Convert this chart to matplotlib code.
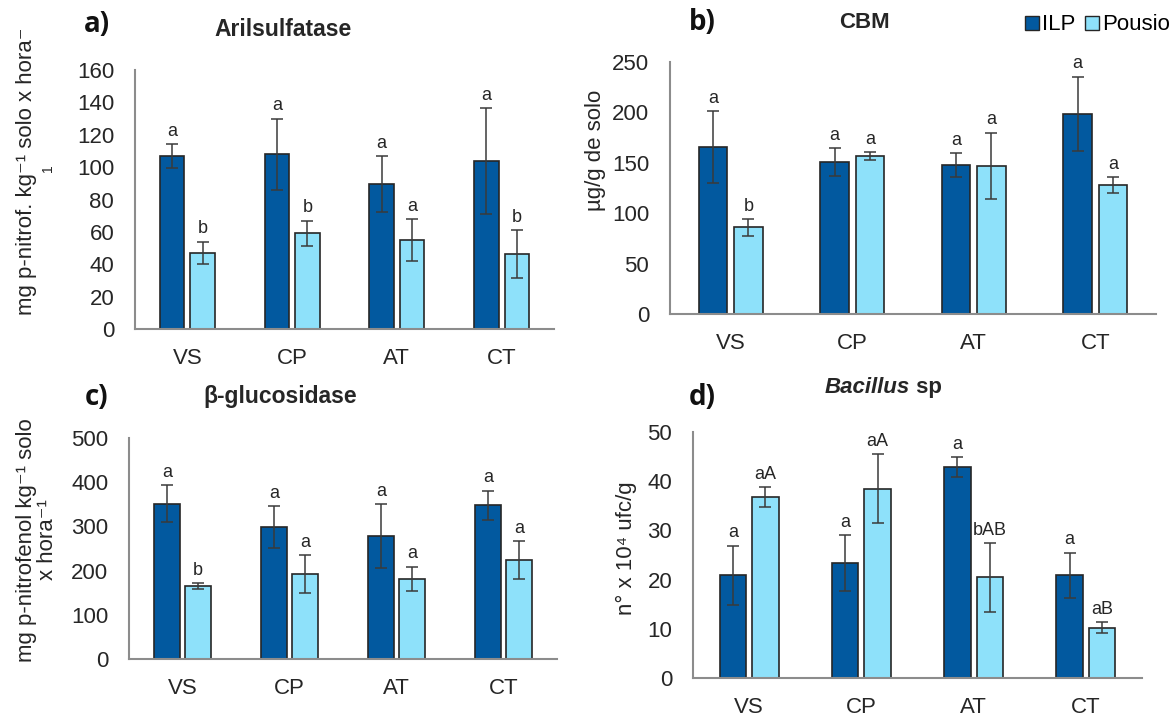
import numpy as np
import matplotlib.pyplot as plt
from matplotlib.patches import Patch

plt.rcParams['font.family'] = ['Liberation Sans', 'DejaVu Sans']

W, H = 1176, 718

sites = ["VS", "CP", "AT", "CT"]

# a) Arilsulfatase
aril_ilp = [106.8, 108.0, 89.5, 103.7]
aril_ilp_err = [7.5, 22.0, 17.5, 32.7]
aril_pou = [47.0, 59.0, 55.0, 46.3]
aril_pou_err = [7.0, 8.0, 12.7, 15.0]
aril_let_ilp = ["a", "a", "a", "a"]
aril_let_pou = ["b", "b", "a", "b"]

# b) CBM
cbm_ilp = [165.5, 150.5, 148.0, 198.5]
cbm_ilp_err = [36.0, 14.0, 12.0, 37.0]
cbm_pou = [86.0, 157.0, 147.0, 128.0]
cbm_pou_err = [8.5, 4.0, 33.0, 7.5]
cbm_let_ilp = ["a", "a", "a", "a"]
cbm_let_pou = ["b", "a", "a", "a"]

# c) beta-glucosidase
gluc_ilp = [351, 299, 278, 348]
gluc_ilp_err = [42, 47, 72, 33]
gluc_pou = [165, 192, 181, 224]
gluc_pou_err = [6, 43, 28, 42]
gluc_let_ilp = ["a", "a", "a", "a"]
gluc_let_pou = ["b", "a", "a", "a"]

# d) Bacillus sp
bac_ilp = [20.9, 23.3, 42.9, 20.9]
bac_ilp_err = [6.0, 5.7, 2.0, 4.6]
bac_pou = [36.8, 38.5, 20.5, 10.2]
bac_pou_err = [2.0, 7.0, 7.0, 1.1]
bac_let_ilp = ["a", "a", "a", "a"]
bac_let_pou = ["aA", "aA", "bAB", "aB"]

C_ILP = "#02599f"
C_POU = "#8ee1fa"
EDGE = "#262626"
AXC = "#8c8c8c"
TXT = "#262626"


def px_axes(fig, l, t, r, b):
    return fig.add_axes([l / W, 1 - b / H, (r - l) / W, (b - t) / H])


def panel(ax, ilp, ilp_err, pou, pou_err, let_ilp, let_pou, ymax, step):
    x = np.arange(len(sites))
    w = 0.235
    off = 0.145
    ax.bar(x - off, ilp, w, color=C_ILP, edgecolor=EDGE, linewidth=1.2, zorder=2)
    ax.bar(x + off, pou, w, color=C_POU, edgecolor=EDGE, linewidth=1.2, zorder=2)
    ax.errorbar(x - off, ilp, yerr=ilp_err, fmt="none", ecolor="#3a3a3a",
                elinewidth=1.1, capsize=4, capthick=1.1, zorder=3)
    ax.errorbar(x + off, pou, yerr=pou_err, fmt="none", ecolor="#3a3a3a",
                elinewidth=1.1, capsize=4, capthick=1.1, zorder=3)
    for i in range(len(sites)):
        ax.annotate(let_ilp[i], (x[i] - off, ilp[i] + ilp_err[i]), xytext=(0, 3),
                    textcoords="offset points", ha="center", va="bottom", fontsize=13,
                    color=TXT)
        ax.annotate(let_pou[i], (x[i] + off, pou[i] + pou_err[i]), xytext=(0, 3),
                    textcoords="offset points", ha="center", va="bottom", fontsize=13,
                    color=TXT)
    ax.set_xlim(-0.5, len(sites) - 0.5)
    ax.set_ylim(0, ymax)
    ax.set_yticks(np.arange(0, ymax + 1, step))
    ax.set_xticks(x)
    ax.set_xticklabels(sites)
    for s in ["top", "right"]:
        ax.spines[s].set_visible(False)
    for s in ["left", "bottom"]:
        ax.spines[s].set_color(AXC)
        ax.spines[s].set_linewidth(1.5)
    ax.tick_params(axis="both", length=0, labelsize=16, colors=TXT)
    ax.tick_params(axis="y", pad=15)
    ax.tick_params(axis="x", pad=14)


fig = plt.figure(figsize=(W / 100, H / 100), dpi=100)

ax_a = px_axes(fig, 135, 70, 554, 329)
panel(ax_a, aril_ilp, aril_ilp_err, aril_pou, aril_pou_err, aril_let_ilp, aril_let_pou, 160, 20)
ax_b = px_axes(fig, 670, 62, 1156, 314)
panel(ax_b, cbm_ilp, cbm_ilp_err, cbm_pou, cbm_pou_err, cbm_let_ilp, cbm_let_pou, 250, 50)
ax_c = px_axes(fig, 129, 438, 557, 659)
panel(ax_c, gluc_ilp, gluc_ilp_err, gluc_pou, gluc_pou_err, gluc_let_ilp, gluc_let_pou, 500, 100)
ax_d = px_axes(fig, 693, 432, 1142, 678)
panel(ax_d, bac_ilp, bac_ilp_err, bac_pou, bac_pou_err, bac_let_ilp, bac_let_pou, 50, 10)

# y labels
fig.text(27 / W, 1 - 171 / H, "mg p-nitrof. kg⁻¹ solo x hora⁻", rotation=90,
         ha="center", va="center", fontsize=16, color=TXT)
fig.text(48 / W, 1 - 168 / H, "1", rotation=90, ha="center", va="center",
         fontsize=10, color=TXT)
fig.text(596 / W, 1 - 150 / H, "µg/g de solo", rotation=90, ha="center", va="center",
         fontsize=16, color=TXT)
fig.text(37 / W, 1 - 540 / H, "mg p-nitrofenol kg⁻¹ solo\nx hora⁻¹", rotation=90,
         ha="center", va="center", fontsize=16, color=TXT, linespacing=1.05)
fig.text(626 / W, 1 - 548 / H, "n° x 10⁴ ufc/g", rotation=90, ha="center", va="center",
         fontsize=16, color=TXT)

# titles
fig.text(283 / W, 1 - 30 / H, "Arilsulfatase", ha="center", va="center",
         fontsize=16.5, fontweight="bold", color=TXT)
fig.text(864 / W, 1 - 22 / H, "CBM", ha="center", va="center",
         fontsize=16, fontweight="bold", color=TXT)
fig.text(280 / W, 1 - 397 / H, "β-glucosidase", ha="center", va="center",
         fontsize=16.5, fontweight="bold", color=TXT)
fig.text(910 / W, 1 - 388 / H, "Bacillus", ha="right", va="center",
         fontsize=16, fontweight="bold", fontstyle="italic", color=TXT)
fig.text(910 / W, 1 - 388 / H, " sp", ha="left", va="center",
         fontsize=16, fontweight="bold", color=TXT)

# panel letters
for lab, (px, py) in zip(["a)", "b)", "c)", "d)"],
                         [(97, 25), (702, 23), (97, 398), (702, 398)]):
    fig.text(px / W, 1 - py / H, lab, ha="center", va="center", fontsize=20,
             fontweight="bold", family="Open Sans", color="#111111")

# legend
handles = [Patch(facecolor=C_ILP, edgecolor=EDGE, label="ILP"),
           Patch(facecolor=C_POU, edgecolor=EDGE, label="Pousio")]
fig.legend(handles=handles, loc="center right", bbox_to_anchor=(1170 / W, 1 - 25 / H),
           ncol=2, frameon=False, fontsize=16, handlelength=0.6, handleheight=0.6,
           handletextpad=0.15, columnspacing=0.45, borderpad=0, borderaxespad=0)

fig.savefig("out.png", dpi=100)
